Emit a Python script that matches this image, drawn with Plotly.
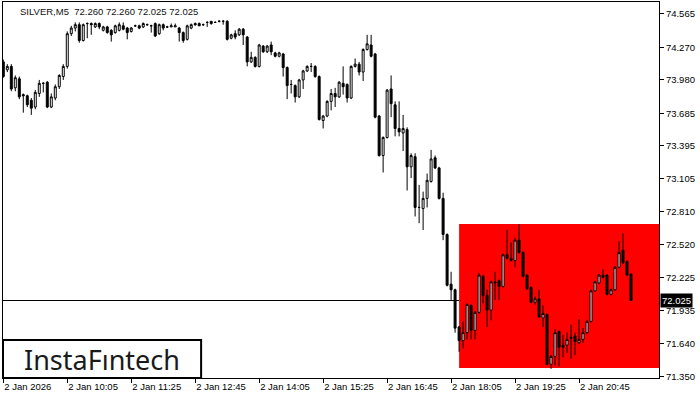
import pandas as pd
import plotly.graph_objects as go

# ---- data (SILVER, M5) ----
open_ = [74.14, 74.07, 74.10, 73.91, 73.99, 73.85, 73.84, 73.80, 73.74, 73.86,
         73.95, 73.96, 73.74, 73.82, 73.92, 74.01, 74.10, 74.39, 74.44, 74.47,
         74.33, 74.48, 74.48, 74.45, 74.48, 74.42, 74.45, 74.42, 74.40, 74.42,
         74.46, 74.44, 74.41, 74.46, 74.46, 74.45, 74.47, 74.46, 74.48, 74.39,
         74.47, 74.45, 74.45, 74.45, 74.44, 74.40, 74.34, 74.44, 74.48, 74.48,
         74.47, 74.49, 74.50, 74.49, 74.50, 74.50, 74.50, 74.35, 74.39, 74.38,
         74.43, 74.36, 74.14, 74.18, 74.10, 74.28, 74.23, 74.29, 74.22, 74.19,
         74.21, 74.09, 73.94, 73.93, 73.83, 73.98, 74.06, 74.10, 74.10, 74.01,
         73.62, 73.66, 73.79, 73.86, 73.83, 73.95, 73.94, 73.82, 74.10, 74.12,
         74.05, 74.25, 74.29, 74.21, 73.66, 73.31, 73.47, 73.90, 73.76, 73.55,
         73.51, 73.54, 73.21, 73.30, 72.85, 72.84, 72.93, 73.08, 73.29, 73.20,
         72.93, 72.61, 72.17, 72.12, 71.79, 71.67, 71.74, 71.98, 71.76, 71.92,
         72.24, 72.07, 71.94, 72.19, 72.20, 72.15, 72.43, 72.40, 72.38, 72.56,
         72.45, 72.25, 72.14, 72.01, 72.04, 71.87, 71.90, 71.46, 71.53, 71.75,
         71.63, 71.63, 71.70, 71.71, 71.65, 71.68, 71.74, 71.84, 72.11, 72.18,
         72.25, 72.25, 72.08, 72.12, 72.32, 72.47, 72.37, 72.260]
high = [74.16, 74.12, 74.12, 74.02, 74.01, 73.86, 73.85, 73.82, 73.89, 73.98,
        73.96, 73.97, 73.86, 73.94, 74.03, 74.12, 74.41, 74.46, 74.49, 74.49,
        74.48, 74.49, 74.49, 74.49, 74.49, 74.46, 74.46, 74.43, 74.47, 74.49,
        74.49, 74.45, 74.45, 74.47, 74.47, 74.49, 74.48, 74.47, 74.49, 74.48,
        74.48, 74.46, 74.48, 74.48, 74.45, 74.41, 74.47, 74.48, 74.49, 74.49,
        74.48, 74.50, 74.50, 74.50, 74.51, 74.51, 74.51, 74.39, 74.42, 74.44,
        74.44, 74.37, 74.23, 74.19, 74.30, 74.29, 74.29, 74.32, 74.23, 74.23,
        74.22, 74.10, 73.98, 73.94, 73.99, 74.07, 74.11, 74.13, 74.11, 74.02,
        73.67, 73.80, 73.90, 73.91, 73.97, 74.10, 73.95, 74.11, 74.17, 74.14,
        74.26, 74.38, 74.38, 74.22, 73.67, 73.48, 73.90, 74.02, 73.79, 73.79,
        73.67, 73.56, 73.33, 73.33, 73.05, 72.99, 73.15, 73.36, 73.31, 73.21,
        72.98, 72.62, 72.28, 72.13, 71.80, 71.84, 72.00, 71.99, 71.93, 72.27,
        72.25, 72.12, 72.20, 72.28, 72.21, 72.44, 72.65, 72.54, 72.58, 72.70,
        72.46, 72.26, 72.15, 72.06, 72.12, 71.98, 71.91, 71.54, 71.77, 71.76,
        71.72, 71.74, 71.81, 71.74, 71.86, 71.78, 71.85, 72.12, 72.20, 72.26,
        72.30, 72.26, 72.13, 72.33, 72.55, 72.62, 72.38, 72.260]
low = [74.00, 74.05, 73.88, 73.88, 73.81, 73.69, 73.74, 73.67, 73.72, 73.83,
       73.87, 73.73, 73.73, 73.80, 73.90, 73.98, 74.08, 74.37, 74.41, 74.31,
       74.32, 74.35, 74.38, 74.44, 74.43, 74.41, 74.39, 74.32, 74.39, 74.41,
       74.42, 74.34, 74.40, 74.45, 74.43, 74.44, 74.46, 74.40, 74.36, 74.38,
       74.42, 74.44, 74.45, 74.45, 74.32, 74.31, 74.33, 74.43, 74.46, 74.46,
       74.46, 74.45, 74.47, 74.49, 74.49, 74.47, 74.33, 74.34, 74.34, 74.37,
       74.29, 74.10, 74.13, 74.09, 74.09, 74.22, 74.22, 74.20, 74.18, 74.18,
       74.01, 73.81, 73.86, 73.78, 73.82, 73.90, 74.05, 74.05, 74.00, 73.62,
       73.55, 73.65, 73.71, 73.74, 73.82, 73.85, 73.78, 73.81, 74.09, 74.02,
       73.97, 74.24, 74.18, 73.64, 73.30, 73.16, 73.46, 73.65, 73.48, 73.48,
       73.35, 73.00, 73.11, 72.77, 72.71, 72.65, 72.85, 73.07, 73.19, 72.92,
       72.56, 72.15, 72.03, 71.74, 71.57, 71.60, 71.68, 71.68, 71.68, 71.91,
       72.00, 71.79, 71.85, 72.03, 72.03, 72.14, 72.39, 72.37, 72.32, 72.44,
       72.23, 72.12, 72.00, 71.99, 71.87, 71.79, 71.45, 71.42, 71.45, 71.44,
       71.52, 71.56, 71.51, 71.54, 71.64, 71.65, 71.73, 71.83, 72.10, 72.17,
       72.22, 72.07, 72.07, 72.11, 72.31, 72.35, 72.24, 72.025]
close = [74.01, 74.10, 73.90, 74.00, 73.83, 73.84, 73.76, 73.73, 73.87, 73.95,
         73.95, 73.74, 73.83, 73.92, 74.02, 74.10, 74.39, 74.44, 74.47, 74.33,
         74.47, 74.48, 74.47, 74.48, 74.45, 74.45, 74.40, 74.38, 74.46, 74.47,
         74.43, 74.40, 74.44, 74.46, 74.44, 74.48, 74.47, 74.46, 74.37, 74.47,
         74.44, 74.45, 74.46, 74.46, 74.40, 74.33, 74.46, 74.47, 74.47, 74.46,
         74.47, 74.49, 74.48, 74.49, 74.50, 74.50, 74.34, 74.38, 74.36, 74.43,
         74.38, 74.14, 74.18, 74.10, 74.29, 74.23, 74.28, 74.23, 74.19, 74.22,
         74.09, 73.93, 73.94, 73.83, 73.98, 74.06, 74.10, 74.10, 74.01, 73.63,
         73.66, 73.79, 73.86, 73.83, 73.96, 73.92, 73.82, 74.10, 74.12, 74.05,
         74.25, 74.30, 74.19, 73.65, 73.31, 73.47, 73.89, 73.77, 73.55, 73.52,
         73.55, 73.21, 73.31, 72.85, 72.85, 72.93, 73.09, 73.28, 73.20, 72.93,
         72.61, 72.16, 72.12, 71.78, 71.67, 71.74, 71.99, 71.76, 71.92, 72.25,
         72.07, 71.94, 72.19, 72.18, 72.15, 72.43, 72.40, 72.38, 72.56, 72.45,
         72.24, 72.13, 72.01, 72.04, 71.88, 71.91, 71.46, 71.53, 71.74, 71.61,
         71.61, 71.68, 71.69, 71.66, 71.68, 71.74, 71.84, 72.11, 72.19, 72.25,
         72.23, 72.08, 72.12, 72.32, 72.45, 72.36, 72.25, 72.025]

times = pd.date_range("2026-01-02 08:45", periods=len(close), freq="5min")

x_tick_every = 16
x_tick_labels = ["2 Jan 2026", "2 Jan 10:05", "2 Jan 11:25", "2 Jan 12:45", "2 Jan 14:05",
                 "2 Jan 15:25", "2 Jan 16:45", "2 Jan 18:05", "2 Jan 19:25", "2 Jan 20:45"]
y_tick_labels = ["74.565", "74.270", "73.980", "73.685", "73.395", "73.105",
                 "72.810", "72.520", "72.225", "71.935", "71.640", "71.350"]

current_price = 72.025
current_price_label = "72.025"
rect_start_index = 114
rect_top = 72.703
rect_bottom = 71.427
title_text = "SILVER,M5  72.260 72.260 72.025 72.025"
logo_text = "InstaF\u0131ntech"

# ---- figure ----
step = pd.Timedelta(minutes=5)
x_range = [times[0] - 0.075 * step, times[0] + 164 * step]
y_range = [71.338, 74.671]

fig = go.Figure()
fig.add_trace(go.Candlestick(
    x=times, open=open_, high=high, low=low, close=close,
    increasing=dict(line=dict(color="black", width=1), fillcolor="white"),
    decreasing=dict(line=dict(color="black", width=1), fillcolor="black"),
    whiskerwidth=0, showlegend=False, hoverinfo="skip",
))

fig.add_shape(type="rect", xref="x", yref="y",
              x0=times[rect_start_index], x1=x_range[1], y0=rect_bottom, y1=rect_top,
              fillcolor="#ff0000", line=dict(width=0), layer="below")
fig.add_shape(type="line", xref="paper", yref="y", x0=0, x1=1,
              y0=current_price, y1=current_price,
              line=dict(color="black", width=1), layer="below")

# logo box
fig.add_shape(type="rect", xref="paper", yref="paper", x0=0, x1=0.302, y0=0, y1=0.101,
              fillcolor="white", line=dict(color="black", width=2), layer="above")
fig.add_annotation(xref="paper", yref="paper", x=0.151, y=0.048, text=logo_text,
                   showarrow=False, font=dict(family="Noto Sans", size=27, color="#1a1a1a"),
                   xanchor="center", yanchor="middle")

fig.add_annotation(xref="paper", yref="paper", x=0.023, y=0.976, text=title_text,
                   showarrow=False, font=dict(family="Liberation Sans", size=9.5, color="#111111"),
                   xanchor="left", yanchor="middle")

fig.add_annotation(xref="paper", yref="y", x=1, y=current_price, text=current_price_label,
                   showarrow=False, xanchor="left", yanchor="middle", xshift=1,
                   font=dict(family="Liberation Sans", size=9.5, color="white"),
                   bgcolor="black", borderpad=1)

tickvals_x = [times[i] for i in range(0, len(times), x_tick_every)][:len(x_tick_labels)]
fig.update_layout(
    width=700, height=400,
    margin=dict(l=3, r=41, t=2, b=22),
    paper_bgcolor="white", plot_bgcolor="white",
    xaxis=dict(range=x_range, rangeslider=dict(visible=False), showgrid=False, zeroline=False,
               tickmode="array", tickvals=tickvals_x, ticktext=x_tick_labels,
               ticks="outside", ticklen=4, tickcolor="black", ticklabelposition="outside right",
               showline=True, mirror=True, linecolor="black", linewidth=1,
               tickfont=dict(family="Liberation Sans", size=9.5, color="black")),
    yaxis=dict(range=y_range, side="right", showgrid=False, zeroline=False,
               tickmode="array", tickvals=[float(v) for v in y_tick_labels], ticktext=y_tick_labels,
               ticks="outside", ticklen=4, tickcolor="black",
               showline=True, mirror=True, linecolor="black", linewidth=1,
               tickfont=dict(family="Liberation Sans", size=9.5, color="black")),
)

fig.write_html("out.html", config={"displayModeBar": False},
               post_script="document.body.style.margin='0';")
